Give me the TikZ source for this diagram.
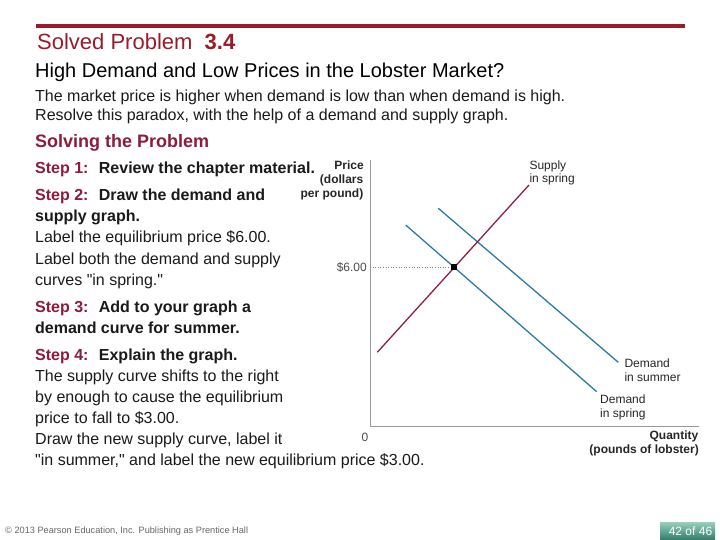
\documentclass[tikz,border=0pt]{standalone}
\usepackage{fontspec}
\setmainfont{Liberation Sans}[Ligatures=TeXOff]
\definecolor{hdr}{HTML}{9B1B2B}
\definecolor{stepred}{HTML}{8B1C3C}
\definecolor{bodytxt}{HTML}{1A1A1A}
\definecolor{supplyc}{HTML}{8E1F4A}
\definecolor{demandc}{HTML}{2A7CA2}
\definecolor{axisc}{HTML}{999999}
\definecolor{pgtop}{HTML}{9ACFBE}
\definecolor{pgbot}{HTML}{2F7C69}
\begin{document}
\begin{tikzpicture}[x=1pt,y=-1pt,
  txt/.style={anchor=base west, inner sep=0pt, text=bodytxt, font=\fontsize{16}{19}\selectfont},
  stephd/.style={txt, font=\fontsize{16}{19}\selectfont\bfseries},
  glab/.style={inner sep=0pt, text=black!85, font=\fontsize{12}{14}\selectfont},
  glabb/.style={glab, font=\fontsize{12}{14}\selectfont\bfseries},
  axisline/.style={draw=axisc, line width=0.9pt},
  supplyline/.style={draw=supplyc, line width=1.3pt},
  demandline/.style={draw=demandc, line width=1.3pt},
  eqpt/.style={fill=black, rectangle, inner sep=0pt, minimum size=6pt}]
\useasboundingbox (0,0) rectangle (720,540);
\fill[white] (0,0) rectangle (720,540);

% header
\fill[hdr] (36,24) rectangle (685,28);
\node[txt, text=hdr, font=\fontsize{22}{26}\selectfont] (solved) at (37,50) {Solved Problem~~\textbf{3.4}};
\node[txt, text=black, font=\fontsize{20}{24}\selectfont] (title) at (35,77.5) {High Demand and Low Prices in the Lobster Market?};
\node[txt] (q1) at (35,101.5) {The market price is higher when demand is low than when demand is high.};
\node[txt] (q2) at (35,120.5) {Resolve this paradox, with the help of a demand and supply graph.};

% steps
\node[txt, text=stepred, font=\fontsize{18}{21}\selectfont\bfseries] (solving) at (35,147.5) {Solving the Problem};
\node[stephd] (s1) at (35,173.5) {\textcolor{stepred}{Step 1:}~ Review the chapter material.};
\node[stephd] (s2a) at (35,201) {\textcolor{stepred}{Step 2:}~ Draw the demand and};
\node[stephd] (s2b) at (35,222) {supply graph.};
\node[txt] (s2c) at (35,243) {Label the equilibrium price \$6.00.};
\node[txt] (s2d) at (35,264) {Label both the demand and supply};
\node[txt] (s2e) at (35,285) {curves "in spring."};
\node[stephd] (s3a) at (35,312) {\textcolor{stepred}{Step 3:}~ Add to your graph a};
\node[stephd] (s3b) at (35,333) {demand curve for summer.};
\node[stephd] (s4a) at (35,360) {\textcolor{stepred}{Step 4:}~ Explain the graph.};
\node[txt] (s4b) at (35,381) {The supply curve shifts to the right};
\node[txt] (s4c) at (35,402) {by enough to cause the equilibrium};
\node[txt] (s4d) at (35,423) {price to fall to \$3.00.};
\node[txt] (s4e) at (35,444) {Draw the new supply curve, label it};
\node[txt] (s4f) at (35,465) {"in summer," and label the new equilibrium price \$3.00.};

% graph
\coordinate (O) at (370,426);
\coordinate (ytop) at (370,160);
\coordinate (xend) at (699,426);
\draw[axisline] (ytop) -- (O) -- (xend);

\coordinate (sa) at (377.3,352.3);
\coordinate (sb) at (529,185);
\coordinate (da) at (405.7,225);
\coordinate (db) at (596.7,391.7);
\coordinate (ea) at (438.3,208.3);
\coordinate (eb) at (618.3,362.3);
\coordinate (p6) at (370,267.4);
\coordinate (eqc) at (454.3,267.4);

\draw[gray, dotted, line width=0.6pt] (p6) -- (eqc);
\draw[demandline] (ea) -- (eb);
\draw[demandline] (da) -- (db);
\draw[supplyline] (sa) -- (sb);
\node[eqpt] (eq) at (eqc) {};

\node[glab, anchor=base east, text=black!70] (six) at (367,271.5) {\$6.00};
\node[glab, anchor=base, text=black!70] (zero) at (365,441) {0};
\node[glabb, anchor=base east] (pr1) at (364,169.5) {Price};
\node[glabb, anchor=base east] (pr2) at (363.5,183.5) {(dollars};
\node[glabb, anchor=base east] (pr3) at (363.5,197.5) {per pound)};
\node[glabb, anchor=base east] (qu1) at (698.5,439) {Quantity};
\node[glabb, anchor=base east] (qu2) at (699,453) {(pounds of lobster)};
\node[glab, anchor=base west] (sl1) at (529.3,169.5) {Supply};
\node[glab, anchor=base west] (sl2) at (529.3,182.5) {in spring};
\node[glab, anchor=base west] (ds1) at (624.3,367.5) {Demand};
\node[glab, anchor=base west] (ds2) at (624.3,381) {in summer};
\node[glab, anchor=base west] (dp1) at (600,403.5) {Demand};
\node[glab, anchor=base west] (dp2) at (600,417) {in spring};

% footer
\node[anchor=base west, inner sep=0pt, text=black!60, font=\fontsize{9.2}{11}\selectfont] (foot) at (5,533.5) {\textcopyright{} 2013 Pearson Education, Inc. Publishing as Prentice Hall};
\shade[top color=pgtop, bottom color=pgbot] (660,522) rectangle (715,540);
\node[inner sep=0pt, text=white, font=\fontsize{12}{14}\selectfont] (pg) at (690.5,531.5) {42 of 46};
\end{tikzpicture}
\end{document}
